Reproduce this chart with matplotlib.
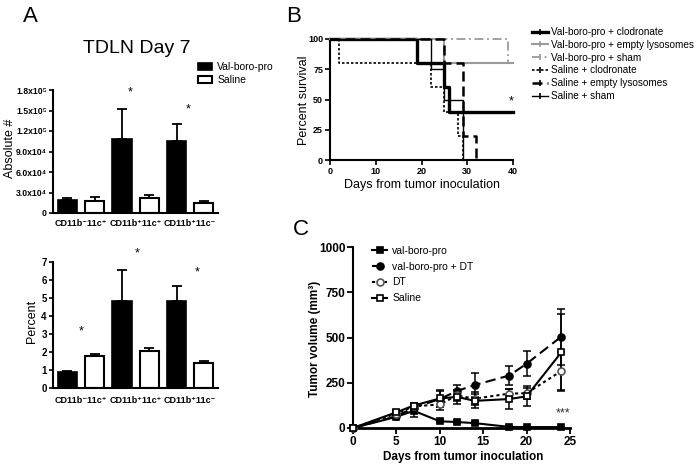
import matplotlib
matplotlib.use('Agg')
import matplotlib.pyplot as plt
from matplotlib.lines import Line2D

plt.rcParams['font.family'] = ['Liberation Sans', 'DejaVu Sans']

# ---------------- data ----------------
categories = ['CD11b⁻11c⁺', 'CD11b⁺11c⁺', 'CD11b⁺11c⁻']
abs_vbp = [1.9e4, 1.08e5, 1.05e5]
abs_vbp_err = [0.25e4, 4.4e4, 2.5e4]
abs_sal = [1.8e4, 2.15e4, 1.5e4]
abs_sal_err = [0.5e4, 0.45e4, 0.25e4]
abs_ticks = [0, 3e4, 6e4, 9e4, 1.2e5, 1.5e5, 1.8e5]
abs_ticklabels = ['0', '3.0x10⁴', '6.0x10⁴', '9.0x10⁴', '1.2x10⁵', '1.5x10⁵', '1.8x10⁵']

pct_vbp = [0.88, 4.82, 4.83]
pct_vbp_err = [0.07, 1.72, 0.85]
pct_sal = [1.79, 2.08, 1.38]
pct_sal_err = [0.1, 0.17, 0.11]
pct_ticks = [0, 1, 2, 3, 4, 5, 6, 7]

surv_names = ['Val-boro-pro + clodronate', 'Val-boro-pro + empty lysosomes',
              'Val-boro-pro + sham', 'Saline + clodronate',
              'Saline + empty lysosomes', 'Saline + sham']
surv_times = [[0, 19, 25, 26, 40],
              [0, 25, 40],
              [0, 39, 40],
              [0, 2, 22, 25, 28, 29],
              [0, 25, 29, 32],
              [0, 22, 25, 29]]
surv_vals = [[100, 80, 60, 40, 40],
             [100, 80, 80],
             [100, 80, 80],
             [100, 80, 60, 40, 20, 0],
             [100, 80, 20, 0],
             [100, 75, 50, 0]]
surv_xticks = [0, 10, 20, 30, 40]
surv_yticks = [0, 25, 50, 75, 100]

days = [0, 5, 7, 10, 12, 14, 18, 20, 24]
tv_names = ['val-boro-pro', 'val-boro-pro + DT', 'DT', 'Saline']
tv_vbp = [0, 62, 95, 37, 33, 27, 6, 5, 5]
tv_vbp_err = [0, 8, 35, 5, 5, 5, 3, 3, 3]
tv_vbpdt = [0, 65, 112, 160, 205, 237, 290, 355, 505]
tv_vbpdt_err = [0, 10, 20, 45, 32, 65, 55, 70, 155]
tv_dt = [0, 80, 120, 130, 180, 162, 190, 192, 315]
tv_dt_err = [0, 10, 15, 30, 30, 35, 25, 30, 105]
tv_sal = [0, 87, 124, 163, 172, 150, 160, 175, 418]
tv_sal_err = [0, 10, 12, 48, 38, 37, 53, 55, 212]
tv_xticks = [0, 5, 10, 15, 20, 25]
tv_yticks = [0, 250, 500, 750, 1000]

W, H = 699, 466
fig = plt.figure(figsize=(W / 100, H / 100), dpi=100)


def ax_px(l, t, r, b):
    return fig.add_axes([l / W, 1 - b / H, (r - l) / W, (b - t) / H])


def ftext(x, y, s, **kw):
    fig.text(x / W, 1 - y / H, s, **kw)


# ---------------- Panel A ----------------
pos_v = [0, 2, 4]
pos_s = [1, 3, 5]
cat_pos = [0.5, 2.5, 4.5]


def bar_panel(ax, v, ve, s, se, ticks, ticklabels, ymax, tsize, lpad):
    ax.bar(pos_v, v, width=0.7, color='black', edgecolor='black', lw=1.2,
           label='Val-boro-pro', zorder=2)
    ax.bar(pos_s, s, width=0.7, color='white', edgecolor='black', lw=1.5,
           label='Saline', zorder=2)
    ax.errorbar(pos_v, v, yerr=[[0] * 3, ve], fmt='none', ecolor='black',
                elinewidth=1.3, capsize=3.5, capthick=1.3, zorder=1)
    ax.errorbar(pos_s, s, yerr=[[0] * 3, se], fmt='none', ecolor='black',
                elinewidth=1.3, capsize=3.5, capthick=1.3, zorder=1)
    ax.set_xlim(-0.53, 5.52)
    ax.set_ylim(0, ymax)
    ax.set_yticks(ticks)
    ax.set_yticklabels(ticklabels, fontsize=tsize, fontweight='bold')
    ax.set_xticks(cat_pos)
    ax.set_xticklabels(categories, fontsize=6.5, fontweight='bold')
    ax.tick_params(axis='x', length=0, pad=lpad)
    ax.tick_params(axis='y', length=3, width=1.2, pad=1.5)
    for sp in ['top', 'right']:
        ax.spines[sp].set_visible(False)
    for sp in ['left', 'bottom']:
        ax.spines[sp].set_linewidth(1.5)


axA1 = ax_px(53, 90, 218, 213)
bar_panel(axA1, abs_vbp, abs_vbp_err, abs_sal, abs_sal_err,
          abs_ticks, abs_ticklabels, 1.8e5, 6.2, 4)
axA1.text(2.29, 1.77e5, '*', ha='center', va='center', fontsize=9, clip_on=False)
axA1.text(4.42, 1.51e5, '*', ha='center', va='center', fontsize=9, clip_on=False)
axA1.legend(loc='upper left', bbox_to_anchor=(198 / W, 1 - 62 / H),
            bbox_transform=fig.transFigure, frameon=False, fontsize=7.5,
            borderpad=0, borderaxespad=0, handlelength=1.35, handleheight=0.7,
            handletextpad=0.5, labelspacing=0.3)

axA2 = ax_px(53, 262, 218, 388)
bar_panel(axA2, pct_vbp, pct_vbp_err, pct_sal, pct_sal_err,
          pct_ticks, [str(t) for t in pct_ticks], 7, 7, 6)
axA2.text(0.52, 3.13, '*', ha='center', va='center', fontsize=9, clip_on=False)
axA2.text(2.56, 7.5, '*', ha='center', va='center', fontsize=9, clip_on=False)
axA2.text(4.75, 6.41, '*', ha='center', va='center', fontsize=9, clip_on=False)

ftext(23, 22, 'A', fontsize=16, ha='left', va='baseline')
ftext(83, 53, 'TDLN Day 7', fontsize=14, ha='left', va='baseline')
ftext(10, 148, 'Absolute #', fontsize=9, rotation=90, ha='center', va='center')
ftext(32, 321, 'Percent', fontsize=9, rotation=90, ha='center', va='center')

# ---------------- Panel B ----------------
axB = ax_px(330, 39, 513, 160)
surv_styles = [dict(color='black', lw=2.4, ls='-'),
               dict(color='#9a9a9a', lw=1.5, ls='-'),
               dict(color='#9a9a9a', lw=1.3, ls=(0, (5, 2, 1, 2))),
               dict(color='black', lw=1.2, ls=(0, (1.5, 1.2))),
               dict(color='black', lw=1.8, ls=(0, (4, 2))),
               dict(color='black', lw=1.0, ls='-')]
order = [1, 2, 3, 4, 5, 0]
for i in order:
    axB.step(surv_times[i], surv_vals[i], where='post', clip_on=False,
             zorder=3 + i, **surv_styles[i])
axB.set_xlim(0, 40)
axB.set_ylim(0, 100)
axB.set_xticks(surv_xticks)
axB.set_yticks(surv_yticks)
axB.set_xticklabels([str(t) for t in surv_xticks], fontsize=6.5, fontweight='bold')
axB.set_yticklabels([str(t) for t in surv_yticks], fontsize=6.5, fontweight='bold')
axB.tick_params(length=3.5, width=1.2, pad=1.5)
for sp in ['top', 'right']:
    axB.spines[sp].set_visible(False)
for sp in ['left', 'bottom']:
    axB.spines[sp].set_linewidth(1.5)
axB.text(39.5, 48, '*', ha='center', va='center', fontsize=9, clip_on=False)
handlesB = [Line2D([], [], marker='|', markersize=5, markeredgewidth=1.2,
                   markeredgecolor=surv_styles[i]['color'], **surv_styles[i])
            for i in range(6)]
axB.legend(handlesB, surv_names, loc='upper left',
           bbox_to_anchor=(532 / W, 1 - 27 / H), bbox_transform=fig.transFigure,
           frameon=False, fontsize=7.2, borderpad=0, borderaxespad=0,
           handlelength=1.6, handletextpad=0.3, labelspacing=0.28)
ftext(286, 22, 'B', fontsize=16, ha='left', va='baseline')
ftext(304, 100, 'Percent survival', fontsize=9, rotation=90, ha='center', va='center')
ftext(422, 185, 'Days from tumor inoculation', fontsize=9, ha='center', va='center')

# ---------------- Panel C ----------------
axC = ax_px(353, 247, 570, 428)
series = [(tv_vbp, tv_vbp_err, dict(ls='-', marker='s', mfc='black', mec='black')),
          (tv_vbpdt, tv_vbpdt_err, dict(ls=(0, (5, 2.5)), marker='o', mfc='black', mec='black')),
          (tv_dt, tv_dt_err, dict(ls=(0, (1.5, 1.5)), marker='o', mfc='white', mec='#555555')),
          (tv_sal, tv_sal_err, dict(ls='-', marker='s', mfc='white', mec='black'))]
for (vals, errs, st), name in zip(series, tv_names):
    axC.errorbar(days, vals, yerr=errs, fmt='none', ecolor='black',
                 elinewidth=1.1, capsize=3, capthick=1.1, zorder=2, clip_on=False)
    axC.plot(days, vals, color='black', lw=1.5, markersize=5, mew=1.2,
             label=name, zorder=3, clip_on=False, **st)
axC.set_xlim(0, 25)
axC.set_ylim(0, 1000)
axC.set_xticks(tv_xticks)
axC.set_yticks(tv_yticks)
axC.set_xticklabels([str(t) for t in tv_xticks], fontsize=8.5, fontweight='bold')
axC.set_yticklabels([str(t) for t in tv_yticks], fontsize=8.5, fontweight='bold')
axC.tick_params(length=4, width=1.3, pad=1.5)
for sp in ['top', 'right']:
    axC.spines[sp].set_visible(False)
axC.spines['left'].set_linewidth(1.5)
axC.spines['bottom'].set_linewidth(2)
axC.text(24.2, 83, '***', ha='center', va='center', fontsize=9, color='#333333')
axC.legend(loc='upper left', bbox_to_anchor=(372 / W, 1 - 246 / H),
           bbox_transform=fig.transFigure, frameon=False, fontsize=7.5,
           borderpad=0, borderaxespad=0, handlelength=1.45, handletextpad=0.5,
           labelspacing=0.55, numpoints=1)
ftext(293, 235, 'C', fontsize=16, ha='left', va='baseline')
ftext(315, 339, 'Tumor volume (mm³)', fontsize=8.5, fontweight='bold',
      rotation=90, ha='center', va='center')
ftext(463, 457, 'Days from tumor inoculation', fontsize=8.5, fontweight='bold',
      ha='center', va='center')

fig.savefig('out.png', dpi=100)
